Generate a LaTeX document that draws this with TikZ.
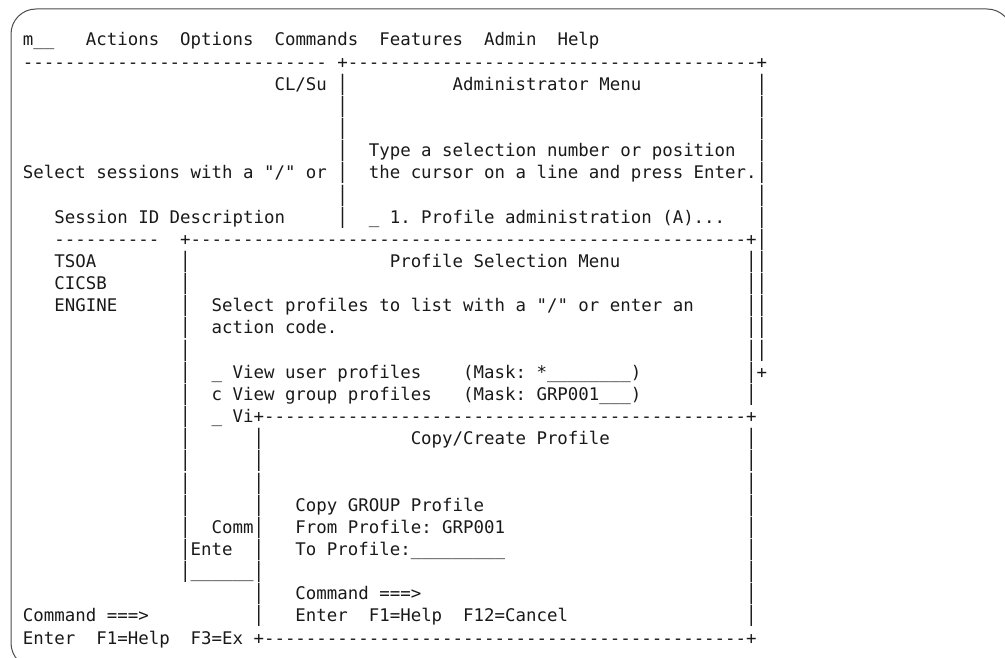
\documentclass[tikz,border=0pt]{standalone}
\usepackage{fontspec}
\usepackage{graphicx}
\setmonofont{DejaVu Sans Mono}
\newcommand\rp[2]{\foreach\rpi in {1,...,#1}{#2}}
\tikzset{
  txt/.style={inner sep=0pt, outer sep=0pt, anchor=base west, text=black!90,
    font=\ttfamily\fontsize{17.41}{22}\selectfont\frenchspacing},
  frame/.style={draw=black!70, line width=1pt, rounded corners=25pt}
}
\newcommand\seg[4]{\node[txt] (#1) at ({23+#2*10.48},{46+#3*22.15}) {#4};}
\newcommand\vb[2]{\node[txt] (v#1-#2) at ({23+#1*10.48},{46+#2*22.15}) {\scalebox{1}[1.22]{|}};}
\begin{document}
\begin{tikzpicture}[x=1pt,y=-1pt]
\useasboundingbox (0,0) rectangle (1005,658);
\draw[frame] (11,9) rectangle (1012,668);
% row 0-1
\seg{menu}{0}{0}{m\_\_~~~Actions~~Options~~Commands~~Features~~Admin~~Help}
\seg{topline}{0}{1}{\rp{29}{-}~+\rp{39}{-}+}
% administrator menu
\seg{clsu}{24}{2}{CL/Su}
\seg{admtitle}{41}{2}{Administrator Menu}
\seg{typesel}{33}{5}{Type a selection number or position}
\seg{selsess}{0}{6}{Select sessions with a "/" or}
\seg{cursor}{33}{6}{the cursor on a line and press Enter.}
\seg{sessid}{3}{8}{Session ID Description}
\seg{opt}{33}{8}{\_ 1. Profile administration (A)...}
\foreach \r in {2,...,8} {\vb{30}{\r}}
\foreach \r in {2,...,14} {\vb{70}{\r}}
\seg{admcorner}{70}{15}{+}
% profile selection menu
\seg{sessdash}{3}{9}{\rp{10}{-}}
\seg{pstop}{15}{9}{+\rp{53}{-}+}
\seg{tsoa}{3}{10}{TSOA}
\seg{pstitle}{35}{10}{Profile Selection Menu}
\seg{cicsb}{3}{11}{CICSB}
\seg{engine}{3}{12}{ENGINE}
\seg{pstext1}{18}{12}{Select profiles to list with a "/" or enter an}
\seg{pstext2}{18}{13}{action code.}
\seg{vuser}{18}{15}{\_ View user profiles}
\seg{mask1}{42}{15}{(Mask: *\rp{8}{\_})}
\seg{vgroup}{18}{16}{c View group profiles}
\seg{mask2}{42}{16}{(Mask: GRP001\rp{3}{\_})}
\seg{vi}{18}{17}{\_ Vi}
\foreach \r in {10,...,24} {\vb{15}{\r}}
\foreach \r in {10,...,16} {\vb{69}{\r}}
\seg{comm}{18}{22}{Comm}
\seg{ente}{16}{23}{Ente}
\seg{psbot}{16}{24}{\rp{6}{\_}}
% copy/create profile
\seg{cctop}{22}{17}{+\rp{46}{-}+}
\seg{cctitle}{37}{18}{Copy/Create Profile}
\seg{copygrp}{26}{21}{Copy GROUP Profile}
\seg{from}{26}{22}{From Profile: GRP001}
\seg{to}{26}{23}{To Profile:\rp{9}{\_}}
\seg{cmdin}{26}{25}{Command ===>}
\seg{keysin}{26}{26}{Enter~~F1=Help~~F12=Cancel}
\foreach \r in {18,...,26} {\vb{22}{\r}}
\foreach \r in {18,...,26} {\vb{69}{\r}}
\seg{ccbot}{22}{27}{+\rp{46}{-}+}
% base screen bottom
\seg{cmdout}{0}{26}{Command ===>}
\seg{keysout}{0}{27}{Enter~~F1=Help~~F3=Ex}
\end{tikzpicture}
\end{document}
